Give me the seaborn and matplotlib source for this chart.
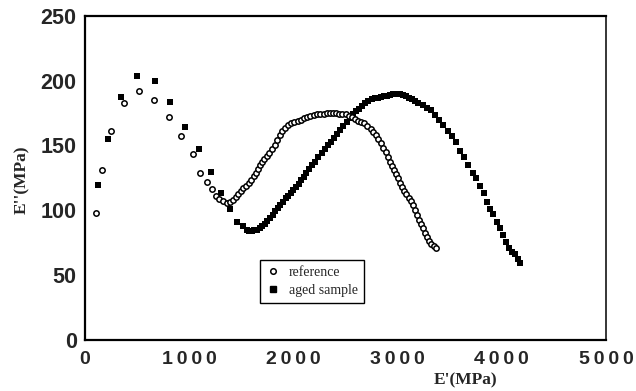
import matplotlib
matplotlib.use("Agg")
import matplotlib.pyplot as plt
from matplotlib.ticker import MultipleLocator, FuncFormatter
from matplotlib.lines import Line2D
import seaborn as sns
import pandas as pd

# Storage modulus E' (MPa) and loss modulus E'' (MPa) for the reference sample
ref_e1 = [106, 163, 253, 378, 522, 666, 805, 923, 1035, 1103, 1170, 1218, 1260,
          1285, 1324, 1362, 1395, 1420, 1445, 1470, 1495, 1520, 1545, 1570, 1595,
          1620, 1640, 1660, 1680, 1700, 1720, 1745, 1770, 1795, 1820, 1845, 1870,
          1895, 1920, 1950, 1980, 2010, 2040, 2070, 2100, 2130, 2160, 2195, 2230,
          2260, 2290, 2320, 2350, 2380, 2410, 2440, 2470, 2500, 2530, 2560, 2590,
          2620, 2650, 2680, 2710, 2740, 2765, 2790, 2815, 2840, 2860, 2885, 2905,
          2925, 2945, 2965, 2985, 3005, 3025, 3045, 3065, 3085, 3105, 3125, 3145,
          3165, 3185, 3205, 3225, 3245, 3265, 3285, 3305, 3325, 3345, 3365]
ref_e2 = [98, 131, 161, 183, 192, 185, 172, 157.5, 143, 129, 122, 116, 111,
          108.5, 107, 105.5, 106, 108, 110, 112.5, 115, 117, 119, 121, 123.5,
          126, 129, 132, 134.5, 137, 139.5, 142, 144.5, 147, 150.5, 154.5, 158,
          161, 163.5, 165.5, 167, 168, 169, 170, 171, 172, 173, 173.5, 174,
          174.5, 174.5, 175, 175, 175, 175, 174.5, 174.5, 174, 173, 172, 170.5,
          169, 168, 167, 165, 163, 160.5, 158, 155, 152, 148, 145, 141,
          137, 134, 131, 128, 124.5, 121, 118, 115, 112.5, 109.5, 107, 104,
          100, 96, 92, 89, 86, 82.5, 79.5, 76.5, 74, 72, 70.5]

# Storage modulus E' (MPa) and loss modulus E'' (MPa) for the aged sample
aged_e1 = [128, 221, 343, 500, 670, 814, 958, 1093, 1205, 1305, 1394, 1458, 1513,
           1550, 1575, 1600, 1625, 1650, 1675, 1700, 1725, 1750, 1775, 1800, 1825,
           1850, 1875, 1900, 1925, 1950, 1975, 2000, 2025, 2050, 2075, 2100, 2125,
           2150, 2180, 2210, 2240, 2270, 2300, 2330, 2360, 2390, 2420, 2450, 2480,
           2510, 2540, 2570, 2600, 2630, 2660, 2690, 2720, 2750, 2780, 2810, 2840,
           2870, 2900, 2930, 2960, 2990, 3020, 3050, 3080, 3110, 3140, 3170, 3200,
           3240, 3280, 3320, 3360, 3400, 3440, 3480, 3520, 3560, 3600, 3640, 3680,
           3720, 3750, 3790, 3830, 3860, 3890, 3920, 3950, 3980, 4010, 4040, 4070,
           4100, 4130, 4155, 4170]
aged_e2 = [119.5, 155, 187.5, 204, 200, 183.5, 164.5, 147.5, 129.5, 113.5, 100.5, 91, 88,
           85, 84.2, 84, 84.5, 85, 86, 87.5, 89.5, 91.5, 94, 96.5, 99,
           101.5, 104, 106.5, 109, 111, 113, 115.5, 118, 120.5, 123, 125.5, 128.5,
           131.5, 134.5, 137.5, 141, 144, 147, 150, 153, 156, 159, 162, 165,
           168, 171, 174, 176.5, 178.5, 180.5, 182.5, 184.5, 186, 186.5, 187, 187.5,
           188, 188.5, 189, 189.5, 190, 189.5, 189, 188, 187, 186, 184.5, 183,
           181, 179, 177, 173.5, 170, 166, 161.5, 157, 153, 146, 141, 135,
           129, 124.5, 119, 113, 106, 101, 97, 91, 86, 81, 75.5, 71,
           68, 66, 62, 59]

series_names = ["reference", "aged sample"]
x_ticks = [0, 1000, 2000, 3000, 4000, 5000]
y_ticks = [0, 50, 100, 150, 200, 250]

df = pd.concat([
    pd.DataFrame({"E1": ref_e1, "E2": ref_e2, "sample": series_names[0]}),
    pd.DataFrame({"E1": aged_e1, "E2": aged_e2, "sample": series_names[1]}),
], ignore_index=True)

sns.set_style("white")
plt.rcParams["font.family"] = ["Liberation Sans", "DejaVu Sans"]

fig = plt.figure(figsize=(6.36, 3.91), dpi=100)
ax = fig.add_axes([85 / 636, 1 - 339.5 / 391, 521 / 636, 323.5 / 391])

ref_df = df[df["sample"] == series_names[0]]
aged_df = df[df["sample"] == series_names[1]]

sns.scatterplot(data=aged_df, x="E1", y="E2", ax=ax, marker="s", s=24,
                color="black", edgecolor="black", linewidth=0, legend=False)
sns.scatterplot(data=ref_df, x="E1", y="E2", ax=ax, marker="o", s=15,
                facecolor="white", edgecolor="black", linewidth=1.1, legend=False)

ax.set_xlim(0, 5000)
ax.set_ylim(0, 250)
ax.set_xticks(x_ticks)
ax.set_yticks(y_ticks)
ax.xaxis.set_minor_locator(MultipleLocator(500))
ax.yaxis.set_minor_locator(MultipleLocator(25))

# spaced-out digits on the E' axis
ax.xaxis.set_major_formatter(FuncFormatter(lambda v, p: "\u2009".join(str(int(v)))))
ax.yaxis.set_major_formatter(FuncFormatter(lambda v, p: str(int(v))))

ax.tick_params(axis="both", which="major", direction="out", length=4, width=1.2,
               pad=2, color="black")
ax.tick_params(axis="both", which="minor", direction="out", length=3, width=1.0,
               color="black")
ax.tick_params(axis="x", which="major", labelsize=14, pad=4)
ax.tick_params(axis="y", which="major", labelsize=15.5)
for lbl in ax.get_xticklabels() + ax.get_yticklabels():
    lbl.set_fontweight("bold")

for side, lw in (("left", 1.6), ("bottom", 1.6), ("top", 1.6), ("right", 1.1)):
    ax.spines[side].set_visible(True)
    ax.spines[side].set_color("black")
    ax.spines[side].set_linewidth(lw)

ax.set_xlabel("E'(MPa)", fontfamily="Liberation Serif", fontweight="bold", fontsize=12.5)
ax.set_ylabel("E''(MPa)", fontfamily="Liberation Serif", fontweight="bold", fontsize=12.5)
ax.xaxis.set_label_coords(0.731, -0.103)
ax.yaxis.set_label_coords(-0.106, 0.494)

handles = [
    Line2D([], [], linestyle="none", marker="o", markersize=4, markerfacecolor="white",
           markeredgecolor="black", markeredgewidth=1.1),
    Line2D([], [], linestyle="none", marker="s", markersize=4.5, markerfacecolor="black",
           markeredgecolor="black"),
]
leg = ax.legend(handles, series_names, loc="lower left",
                bbox_to_anchor=(0.336, 0.113), borderaxespad=0, frameon=True,
                fancybox=False, edgecolor="black", framealpha=1, borderpad=0.45,
                handletextpad=0.6, handlelength=1.0, labelspacing=0.35,
                prop={"family": "Liberation Serif", "size": 10})
leg.get_frame().set_linewidth(1.0)

fig.savefig("out.png", dpi=100)
